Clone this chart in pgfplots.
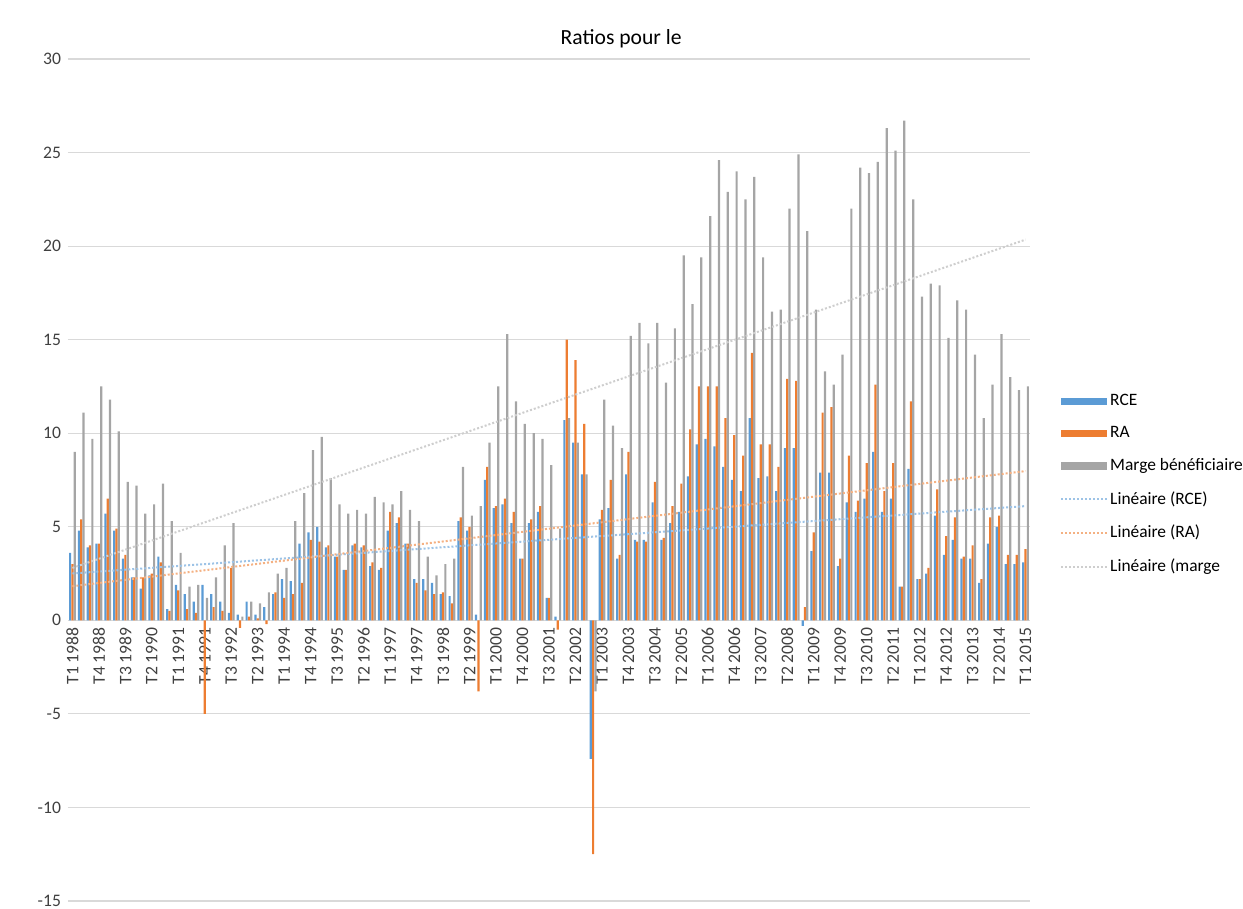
\documentclass[border=0pt]{standalone}
\usepackage{fontspec}
\setmainfont{Carlito}
\usepackage{pgfplots}
\usepackage{pgfplotstable}
\pgfplotsset{compat=1.18}
\definecolor{rce}{RGB}{91,155,213}
\definecolor{ra}{RGB}{237,125,49}
\definecolor{marge}{RGB}{165,165,165}
\definecolor{gridc}{RGB}{217,217,217}

% x = quarter index (0 = T1 1988)
\pgfplotstableread{
x rce ra m
0 3.6 3.0 9.0
1 4.8 5.4 11.1
2 3.9 4.0 9.7
3 4.1 4.1 12.5
4 5.7 6.5 11.8
5 4.8 4.9 10.1
6 3.3 3.5 7.4
7 2.3 2.3 7.2
8 1.7 2.3 5.7
9 2.4 2.5 6.2
10 3.4 3.1 7.3
11 0.6 0.5 5.3
12 1.9 1.6 3.6
13 1.4 0.6 1.8
14 1.0 0.4 1.9
15 1.9 -5.0 1.2
16 1.4 0.7 2.3
17 1.0 0.5 4.0
18 0.4 2.8 5.2
19 0.3 -0.4 0.2
20 1.0 0.2 1.0
21 0.3 0.1 0.9
22 0.7 -0.2 1.5
23 1.4 1.5 2.5
24 2.2 1.2 2.8
25 2.1 1.4 5.3
26 4.1 2.0 6.8
27 4.7 4.3 9.1
28 5.0 4.2 9.8
29 3.9 4.0 7.6
30 3.4 3.4 6.2
31 2.7 2.7 5.7
32 4.0 4.1 5.9
33 3.9 4.0 5.7
34 2.9 3.1 6.6
35 2.7 2.8 6.3
36 4.8 5.8 6.2
37 5.2 5.5 6.9
38 4.1 4.1 5.9
39 2.2 2.0 5.3
40 2.2 1.6 3.4
41 2.0 1.4 2.4
42 1.4 1.5 3.0
43 1.3 0.9 3.3
44 5.3 5.5 8.2
45 4.8 5.0 5.6
46 0.3 -3.8 6.1
47 7.5 8.2 9.5
48 6.0 6.1 12.5
49 6.2 6.5 15.3
50 5.2 5.8 11.7
51 3.3 3.3 10.5
52 5.2 5.4 10.0
53 5.8 6.1 9.7
54 1.2 1.2 8.3
55 0.2 -0.5 4.9
56 10.7 15.0 10.8
57 9.5 13.9 9.5
58 7.8 10.5 7.8
59 -7.4 -12.5 -3.8
60 5.4 5.9 11.8
61 6.0 7.5 10.4
62 3.3 3.5 9.2
63 7.8 9.0 15.2
64 4.3 4.2 15.9
65 4.3 4.2 14.8
66 6.3 7.4 15.9
67 4.3 4.4 12.7
68 5.2 6.1 15.6
69 5.8 7.3 19.5
70 7.7 10.2 16.9
71 9.4 12.5 19.4
72 9.7 12.5 21.6
73 9.3 12.5 24.6
74 8.2 10.8 22.9
75 7.5 9.9 24.0
76 6.9 8.8 22.5
77 10.8 14.3 23.7
78 7.6 9.4 19.4
79 7.7 9.4 16.5
80 6.9 8.2 16.6
81 9.2 12.9 22.0
82 9.2 12.8 24.9
83 -0.3 0.7 20.8
84 3.7 4.7 16.6
85 7.9 11.1 13.3
86 7.9 11.4 12.6
87 2.9 3.3 14.2
88 6.3 8.8 22.0
89 5.8 6.4 24.2
90 6.5 8.4 23.9
91 9.0 12.6 24.5
92 5.8 6.9 26.3
93 6.5 8.4 25.1
94 1.8 1.8 26.7
95 8.1 11.7 22.5
96 2.2 2.2 17.3
97 2.5 2.8 18.0
98 5.6 7.0 17.9
99 3.5 4.5 15.1
100 4.3 5.5 17.1
101 3.3 3.4 16.6
102 3.3 4.0 14.2
103 2.0 2.2 10.8
104 4.1 5.5 12.6
105 5.0 5.6 15.3
106 3.0 3.5 13.0
107 3.0 3.5 12.3
108 3.1 3.8 12.5
}\ratios

\begin{document}
\begin{tikzpicture}
\begin{axis}[
  scale only axis,
  width=481pt, height=421pt,
  xmin=-0.5, xmax=108.5,
  ymin=-15, ymax=30,
  ytick={-15,-10,...,30},
  xtick={0,3,...,108},
  xticklabels={T1 1988,T4 1988,T3 1989,T2 1990,T1 1991,T4 1991,T3 1992,T2 1993,T1 1994,T4 1994,T3 1995,T2 1996,T1 1997,T4 1997,T3 1998,T2 1999,T1 2000,T4 2000,T3 2001,T2 2002,T1 2003,T4 2003,T3 2004,T2 2005,T1 2006,T4 2006,T3 2007,T2 2008,T1 2009,T4 2009,T3 2010,T2 2011,T1 2012,T4 2012,T3 2013,T2 2014,T1 2015},
  axis x line*=middle,
  axis y line*=left,
  x axis line style={draw=gridc, line width=0.6pt},
  y axis line style={draw=none},
  major tick length=0pt,
  hide obscured x ticks=false,
  hide obscured y ticks=false,
  ymajorgrids,
  major grid style={draw=gridc, line width=0.6pt},
  tick label style={font=\fontsize{8.8}{10}\selectfont, text=black!75},
  xticklabel style={rotate=90, anchor=east},
  /pgf/number format/assume math mode=true,
  title={Ratios pour le},
  title style={at={(0.575,1)}, anchor=center, yshift=4pt,
    font=\fontsize{10.8}{12}\selectfont},
  legend style={draw=none, fill=none, at={(1.031,0.605)}, anchor=north west,
    font=\fontsize{8.7}{10}\selectfont, row sep=7pt, inner sep=0pt,
    nodes={inner sep=1pt}},
  legend cell align=left,
]
\addplot[ybar, bar width=0.25, bar shift=-0.26, fill=rce, draw=none,
  legend image code/.code={\fill[rce] (0pt,-1.8pt) rectangle (23pt,1.8pt);}]
  table[x=x, y=rce] {\ratios};
\addplot[ybar, bar width=0.25, bar shift=0, fill=ra, draw=none,
  legend image code/.code={\fill[ra] (0pt,-1.8pt) rectangle (23pt,1.8pt);}]
  table[x=x, y=ra] {\ratios};
\addplot[ybar, bar width=0.25, bar shift=0.26, fill=marge, draw=none,
  legend image code/.code={\fill[marge] (0pt,-1.8pt) rectangle (23pt,1.8pt);}]
  table[x=x, y=m] {\ratios};
\addplot[rce!60, densely dotted, line width=1pt,
  legend image code/.code={\draw[rce!60, densely dotted, line width=1pt] (0pt,0pt) -- (23pt,0pt);}]
  table[x=x, y={create col/linear regression={y=rce}}] {\ratios};
\addplot[ra!60, densely dotted, line width=1pt,
  legend image code/.code={\draw[ra!60, densely dotted, line width=1pt] (0pt,0pt) -- (23pt,0pt);}]
  table[x=x, y={create col/linear regression={y=ra}}] {\ratios};
\addplot[marge!55, densely dotted, line width=1pt,
  legend image code/.code={\draw[marge!55, densely dotted, line width=1pt] (0pt,0pt) -- (23pt,0pt);}]
  table[x=x, y={create col/linear regression={y=m}}] {\ratios};
\legend{RCE,RA,Marge bénéficiaire,Linéaire (RCE),Linéaire (RA),Linéaire (marge}
\coordinate (pbl) at (rel axis cs:0,0);
\coordinate (ptr) at (rel axis cs:1,1);
\end{axis}
\pgfresetboundingbox
\path ([xshift=-34pt,yshift=-4pt]pbl) rectangle ([xshift=106.5pt,yshift=29.5pt]ptr);
\end{tikzpicture}
\end{document}
